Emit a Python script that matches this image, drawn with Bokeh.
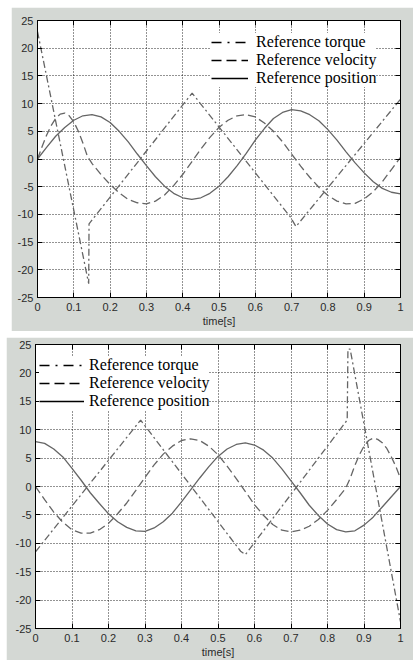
from bokeh.plotting import figure
from bokeh.models import FixedTicker, LinearAxis, Legend, LegendItem, Spacer
from bokeh.layouts import column, row
from bokeh.embed import file_html
from bokeh.resources import INLINE

# ---------------- data ----------------
x_ticks = [0, 0.1, 0.2, 0.3, 0.4, 0.5, 0.6, 0.7, 0.8, 0.9, 1]
x_tick_labels = ["0", "0.1", "0.2", "0.3", "0.4", "0.5", "0.6", "0.7", "0.8", "0.9", "1"]
y_ticks = [-25, -20, -15, -10, -5, 0, 5, 10, 15, 20, 25]
y_tick_labels = ["-25", "-20", "-15", "-10", "-5", "0", "5", "10", "15", "20", "25"]
x_axis_label = "time[s]"
series_names = ["Reference torque", "Reference velocity", "Reference position"]

t = [0, 0.025, 0.05, 0.075, 0.1, 0.125, 0.15, 0.175, 0.2, 0.225,
     0.25, 0.275, 0.3, 0.325, 0.35, 0.375, 0.4, 0.425, 0.45, 0.475,
     0.5, 0.525, 0.55, 0.575, 0.6, 0.625, 0.65, 0.675, 0.7, 0.725,
     0.75, 0.775, 0.8, 0.825, 0.85, 0.875, 0.9, 0.925, 0.95, 0.975, 1.0]

# upper chart
top_position = [0, 2.1, 4.1, 5.7, 7.0, 7.8, 8.0, 7.6, 6.6, 5.0,
                3.1, 0.9, -1.2, -3.2, -4.9, -6.2, -7.0, -7.3, -7.0, -6.2,
                -4.9, -3.2, -1.2, 1.0, 3.4, 5.5, 7.3, 8.4, 8.9, 8.7,
                8.0, 6.9, 5.3, 3.4, 1.3, -0.7, -2.5, -4.1, -5.3, -6.0, -6.3]
top_velocity_t = [0, 0.0125, 0.025, 0.0375, 0.05, 0.0625, 0.075, 0.0875, 0.1, 0.1125,
                  0.125, 0.1375, 0.15, 0.175, 0.2, 0.225, 0.25, 0.275, 0.3, 0.325,
                  0.35, 0.375, 0.4, 0.425, 0.45, 0.475, 0.5, 0.525, 0.55, 0.575,
                  0.6, 0.625, 0.65, 0.675, 0.7, 0.725, 0.75, 0.775, 0.8, 0.825,
                  0.85, 0.875, 0.9, 0.925, 0.95, 0.975, 1.0]
top_velocity = [0, 2.2, 4.3, 6.0, 7.3, 8.1, 8.3, 7.8, 6.7, 5.0,
                2.9, 0.5, -0.8, -2.8, -4.6, -6.1, -7.3, -7.9, -8.1, -7.6,
                -6.5, -4.8, -2.8, -0.5, 1.8, 3.9, 5.7, 7.0, 7.8, 8.0,
                7.6, 6.5, 5.0, 3.1, 0.9, -1.3, -3.3, -5.1, -6.6, -7.6,
                -8.1, -8.0, -7.2, -5.9, -4.1, -1.9, 0.3]
top_torque_t = [0, 0.141, 0.142, 0.426, 0.697, 0.712, 1.0]
top_torque = [23.0, -22.5, -11.7, 11.9, -10.5, -12.2, 10.8]

# lower chart
bottom_position = [7.9, 7.6, 6.6, 5.2, 3.2, 1.1, -1.1, -3.0, -4.8, -6.2,
                   -7.2, -7.8, -7.9, -7.3, -6.2, -4.7, -2.7, -0.6, 1.5, 3.5,
                   5.3, 6.6, 7.4, 7.7, 7.3, 6.4, 5.0, 3.1, 1.0, -1.1,
                   -3.3, -5.1, -6.6, -7.6, -8.0, -7.8, -6.8, -5.4, -3.6, -1.8, 0.0]
bottom_velocity_t = [0, 0.025, 0.05, 0.075, 0.1, 0.125, 0.15, 0.175, 0.2, 0.225,
                     0.25, 0.275, 0.3, 0.325, 0.35, 0.375, 0.4, 0.425, 0.45, 0.475,
                     0.5, 0.525, 0.55, 0.575, 0.6, 0.625, 0.65, 0.675, 0.7, 0.725,
                     0.75, 0.775, 0.8, 0.825, 0.85, 0.8625, 0.875, 0.8875, 0.9, 0.9125,
                     0.925, 0.9375, 0.95, 0.9625, 0.975, 0.9875, 1.0]
bottom_velocity = [0, -2.3, -4.5, -6.3, -7.6, -8.2, -8.2, -7.6, -6.5, -4.8,
                   -2.9, -0.7, 1.6, 3.8, 5.7, 7.1, 8.1, 8.4, 8.1, 7.1,
                   5.6, 3.6, 1.4, -0.9, -3.2, -5.1, -6.7, -7.7, -8.0, -7.7,
                   -7.0, -5.8, -4.2, -2.3, -0.3, 1.5, 3.7, 5.6, 7.1, 8.1,
                   8.5, 8.3, 7.7, 6.7, 5.2, 3.5, 1.4]
bottom_torque_t = [0, 0.288, 0.562, 0.575, 0.854, 0.856, 0.862, 1.0]
bottom_torque = [-11.5, 11.7, -11.4, -12.0, 11.7, 24.2, 24.2, -23.8]

# ---------------- styling ----------------
GRAY_BG = "#d4d8d4"
CURVE = "#656565"
TICK_FONT = "Liberation Sans"
NAN = float("nan")


def make_panel(w, h, left, right, top, bottom, pos_t, pos, vel_t, vel, trq_t, trq,
               leg_loc, glyph_w, leg_standoff):
    p = figure(width=w, height=h, x_range=(0, 1), y_range=(-25, 25),
               output_backend="svg", toolbar_location=None,
               min_border_left=left, min_border_right=right,
               min_border_top=top, min_border_bottom=bottom,
               background_fill_color="white", border_fill_color=GRAY_BG,
               outline_line_color="black", outline_line_width=1)

    xt = FixedTicker(ticks=x_ticks)
    yt = FixedTicker(ticks=y_ticks)

    p.xaxis.ticker = xt
    p.yaxis.ticker = yt
    p.xaxis.major_label_overrides = dict(zip(x_ticks, x_tick_labels))
    p.yaxis.major_label_overrides = dict(zip(y_ticks, y_tick_labels))
    for ax in [p.xaxis[0], p.yaxis[0]]:
        ax.major_tick_in = 5
        ax.major_tick_out = 0
        ax.minor_tick_line_color = None
        ax.axis_line_color = "black"
        ax.major_tick_line_color = "black"
        ax.major_label_text_font = TICK_FONT
        ax.major_label_text_font_size = "11px"
        ax.major_label_text_color = "#2a2a2a"
    p.xaxis.major_label_standoff = 5
    p.yaxis.major_label_standoff = 4
    p.xaxis.axis_label = x_axis_label
    p.xaxis.axis_label_text_font = TICK_FONT
    p.xaxis.axis_label_text_font_style = "normal"
    p.xaxis.axis_label_text_font_size = "11px"
    p.xaxis.axis_label_text_color = "#2a2a2a"
    p.xaxis.axis_label_standoff = 1

    # box ticks on the right and top (no labels drawn)
    for loc, tk in (("right", yt), ("above", xt)):
        ax = LinearAxis(ticker=tk, major_label_text_font_size="1px",
                        major_label_text_color=None,
                        major_label_standoff=0, major_tick_in=5, major_tick_out=0,
                        minor_tick_line_color=None, axis_line_color="black",
                        major_tick_line_color="black")
        p.add_layout(ax, loc)

    p.xgrid.ticker = xt
    p.ygrid.ticker = yt
    for g in (p.xgrid[0], p.ygrid[0]):
        g.grid_line_color = "black"
        g.grid_line_dash = "1 2"
        g.grid_line_width = 1
        g.grid_line_alpha = 0.85

    p.line(pos_t, pos, line_color=CURVE, line_width=1.3)
    p.line(vel_t, vel, line_color=CURVE, line_width=1.3, line_dash="8 4")
    p.line(trq_t, trq, line_color=CURVE, line_width=1.3, line_dash="7 3 2 3")

    # legend samples (black, like the original legend); no visible data
    r_t = p.line([NAN, NAN], [NAN, NAN], line_color="black", line_width=1.6, line_dash="10 6 2 6")
    r_v = p.line([NAN, NAN], [NAN, NAN], line_color="black", line_width=1.6, line_dash="10 5")
    r_p = p.line([NAN, NAN], [NAN, NAN], line_color="black", line_width=1.6)
    legend = Legend(items=[LegendItem(label=series_names[0], renderers=[r_t]),
                           LegendItem(label=series_names[1], renderers=[r_v]),
                           LegendItem(label=series_names[2], renderers=[r_p])],
                    location=leg_loc, background_fill_color="white",
                    background_fill_alpha=1.0, border_line_color=None,
                    padding=4, spacing=0, margin=0,
                    label_text_font="Liberation Serif", label_text_font_size="16px",
                    label_text_color="black", glyph_width=glyph_w, glyph_height=18,
                    label_height=18, label_standoff=leg_standoff)
    p.add_layout(legend)
    return p


# upper panel: grey area x 11..413, y 7..331; frame x 37..400, y 20..297
p1 = make_panel(402, 324, 26, 13, 13, 34, t, top_position, top_velocity_t, top_velocity,
                top_torque_t, top_torque, (174, 210), 37, 8)
# lower panel: grey area x 6..413, y 337..660; frame x 35..400, y 344..630
p2 = make_panel(407, 323, 29, 13, 7, 30, t, bottom_position, bottom_velocity_t, bottom_velocity,
                bottom_torque_t, bottom_torque, (4, 218), 45, 5)

layout = column(Spacer(width=10, height=7),
                row(Spacer(width=11, height=324), p1),
                Spacer(width=10, height=6),
                row(Spacer(width=6, height=323), p2))

open("out.html", "w").write(file_html(layout, INLINE))
